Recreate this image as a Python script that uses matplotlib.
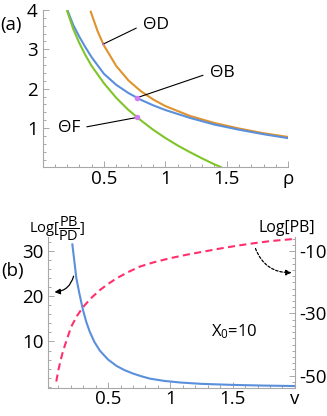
import numpy as np
import matplotlib
matplotlib.use("Agg")
import matplotlib.pyplot as plt
from matplotlib.ticker import FixedLocator, MultipleLocator

plt.rcParams["font.family"] = ["Open Sans", "DejaVu Sans"]
plt.rcParams["mathtext.fontset"] = "custom"
plt.rcParams["mathtext.rm"] = "Open Sans"
plt.rcParams["mathtext.it"] = "Open Sans"

# ---- panel (a) data ----
rho_d = [0.39, 0.45, 0.5, 0.6, 0.7, 0.8, 0.9, 1.0, 1.2, 1.4, 1.6, 1.8, 2.0]
theta_d = [3.98, 3.45, 3.10, 2.58, 2.21, 1.94, 1.73, 1.56, 1.31, 1.13, 0.99, 0.87, 0.775]

rho_b = [0.202, 0.25, 0.3, 0.35, 0.4, 0.5, 0.6, 0.7, 0.8, 0.9, 1.0, 1.2, 1.4, 1.6, 1.8, 2.0]
theta_b = [4.0, 3.62, 3.32, 3.05, 2.80, 2.38, 2.10, 1.89, 1.72, 1.58, 1.46, 1.26, 1.09, 0.96, 0.845, 0.745]

rho_f = [0.198, 0.25, 0.3, 0.35, 0.4, 0.5, 0.6, 0.7, 0.8, 0.9, 1.0, 1.1, 1.2, 1.3, 1.4, 1.46]
theta_f = [4.0, 3.52, 3.16, 2.85, 2.58, 2.14, 1.77, 1.46, 1.20, 0.96, 0.75, 0.56, 0.39, 0.23, 0.08, 0.0]

# marked points (rho, theta) and label positions
mark_rho = [0.492, 0.768, 0.768]
mark_theta = [3.13, 1.77, 1.27]
mark_size = [1.5, 4, 4]
label_text = ["\u0398D", "\u0398B", "\u0398F"]
label_pos = [(0.817, 3.62), (1.362, 2.40), (0.305, 1.00)]

# ---- panel (b) data ----
v_ratio = [0.213, 0.23, 0.245, 0.27, 0.298, 0.325, 0.352, 0.39, 0.433, 0.5, 0.568,
           0.63, 0.702, 0.77, 0.836, 0.95, 1.078, 1.25, 1.5, 1.75, 2.0]
log_ratio = [31.4, 27.5, 24.0, 20.5, 17.0, 14.3, 12.2, 9.9, 8.0, 6.0, 4.6,
             3.7, 2.9, 2.3, 1.8, 1.3, 0.95, 0.65, 0.42, 0.27, 0.17]

v_pb = [0.084, 0.1, 0.12, 0.137, 0.17, 0.205, 0.25, 0.298, 0.36, 0.433, 0.5, 0.568,
        0.66, 0.756, 0.87, 1.0, 1.13, 1.266, 1.4, 1.535, 1.67, 1.804, 2.0]
log_pb = [-51.9, -48.4, -44.9, -42.3, -38.2, -34.2, -30.8, -28.0, -25.2, -22.5, -20.5, -18.7,
          -16.7, -14.9, -13.5, -12.2, -11.1, -10.1, -9.1, -8.2, -7.4, -6.7, -6.0]

BLUE = "#5a8fdc"
ORANGE = "#e0922e"
GREEN = "#80c42a"
PINK = "#ff2f6c"
AXIS_GRAY = "#a8a8a8"
FS = 13.5


def style_axis(ax, sides):
    for s in ["left", "right", "top", "bottom"]:
        if s in sides:
            ax.spines[s].set_color(AXIS_GRAY)
            ax.spines[s].set_linewidth(0.8)
        else:
            ax.spines[s].set_visible(False)
    ax.tick_params(which="both", direction="in", color=AXIS_GRAY, labelsize=FS, width=0.7)
    ax.tick_params(which="major", length=4.5)
    ax.tick_params(which="minor", length=2.2)


fig = plt.figure(figsize=(3.27, 4.16), dpi=100)

# ---------------- panel (a) ----------------
ax_a = fig.add_axes([0.130, 0.5974, 0.751, 0.3786])
ax_a.plot(rho_d, theta_d, color=ORANGE, lw=1.5, solid_capstyle="butt")
ax_a.plot(rho_b, theta_b, color=BLUE, lw=1.5, solid_capstyle="butt")
ax_a.plot(rho_f, theta_f, color=GREEN, lw=1.5, solid_capstyle="butt")
for r, t, s in zip(mark_rho, mark_theta, mark_size):
    ax_a.plot(r, t, "o", color="#d27af5", ms=s, mec="none", zorder=5)

relpos = [(0, 0.5), (0, 0.5), (1, 0.5)]
has = ["left", "left", "right"]
for txt, pos, r, t, rp, ha in zip(label_text, label_pos, mark_rho, mark_theta, relpos, has):
    ax_a.annotate(txt, xy=(r, t), xytext=pos, ha=ha, va="center", fontsize=12.5,
                  arrowprops=dict(arrowstyle="-", color="black", lw=0.8,
                                  relpos=rp, shrinkA=3, shrinkB=0))

ax_a.set_xlim(0, 2.0)
ax_a.set_ylim(0, 4.0)
style_axis(ax_a, ["left", "bottom"])
ax_a.xaxis.set_major_locator(FixedLocator([0.5, 1.0, 1.5, 2.0]))
ax_a.set_xticklabels(["0.5", "1", "1.5", "\u03c1"])
ax_a.xaxis.set_minor_locator(MultipleLocator(0.1))
ax_a.yaxis.set_major_locator(FixedLocator([1, 2, 3, 4]))
ax_a.set_yticklabels(["1", "2", "3", "4"])
ax_a.yaxis.set_minor_locator(MultipleLocator(0.2))
ax_a.tick_params(axis="x", pad=1.5)
ax_a.tick_params(axis="y", pad=3.5)
fig.text(0.034, 0.94, "(a)", fontsize=FS, ha="center", va="center")

# ---------------- panel (b) ----------------
ax_b = fig.add_axes([0.1477, 0.068, 0.7543, 0.363])
ax_b2 = ax_b.twinx()
ax_b2.plot(v_pb, log_pb, color=PINK, lw=1.5, linestyle=(0, (3.4, 2.1)))
ax_b.plot(v_ratio, log_ratio, color=BLUE, lw=1.5, zorder=3)

ax_b.set_xlim(0.02, 2.0)
ax_b.set_ylim(-0.2, 33.1)
ax_b2.set_ylim(-53.9, -5.3)
style_axis(ax_b, ["left", "bottom"])
style_axis(ax_b2, ["right"])
ax_b.xaxis.set_major_locator(FixedLocator([0.5, 1.0, 1.5, 2.0]))
ax_b.set_xticklabels(["0.5", "1", "1.5", "v"])
ax_b.xaxis.set_minor_locator(MultipleLocator(0.1))
ax_b.yaxis.set_major_locator(FixedLocator([10, 20, 30]))
ax_b.set_yticklabels(["10", "20", "30"])
ax_b.yaxis.set_minor_locator(MultipleLocator(2))
ax_b2.yaxis.set_major_locator(FixedLocator([-10, -30, -50]))
ax_b2.set_yticklabels(["-10", "-30", "-50"])
ax_b2.yaxis.set_minor_locator(MultipleLocator(2))
ax_b.tick_params(axis="x", pad=1.5)
ax_b.tick_params(axis="y", pad=3.5)
ax_b2.tick_params(axis="y", pad=3)

ax_b.text(0.094, 34.9, r"Log[$\dfrac{\mathrm{PB}}{\mathrm{PD}}$]", fontsize=10.5,
          ha="center", va="center", clip_on=False)
ax_b.text(1.933, 35.1, "Log[PB]", fontsize=11.5, ha="center", va="center", clip_on=False)
ax_b.text(1.513, 12.2, r"X$_0$=10", fontsize=12, ha="center", va="center")
ax_b.annotate("", xy=(0.070, 20.9), xytext=(0.223, 24.4),
              arrowprops=dict(arrowstyle="-|>", color="black", lw=0.9, mutation_scale=8,
                              connectionstyle="arc3,rad=-0.35", shrinkA=0, shrinkB=0),
              annotation_clip=False)
ax_b.annotate("", xy=(1.973, 25.2), xytext=(1.683, 30.5),
              arrowprops=dict(arrowstyle="-|>", color="black", lw=0.9, mutation_scale=8,
                              linestyle=(0, (2, 1.5)),
                              connectionstyle="arc3,rad=0.35", shrinkA=0, shrinkB=0),
              annotation_clip=False)
fig.text(0.037, 0.349, "(b)", fontsize=FS, ha="center", va="center")

fig.savefig("out.png", dpi=100)
